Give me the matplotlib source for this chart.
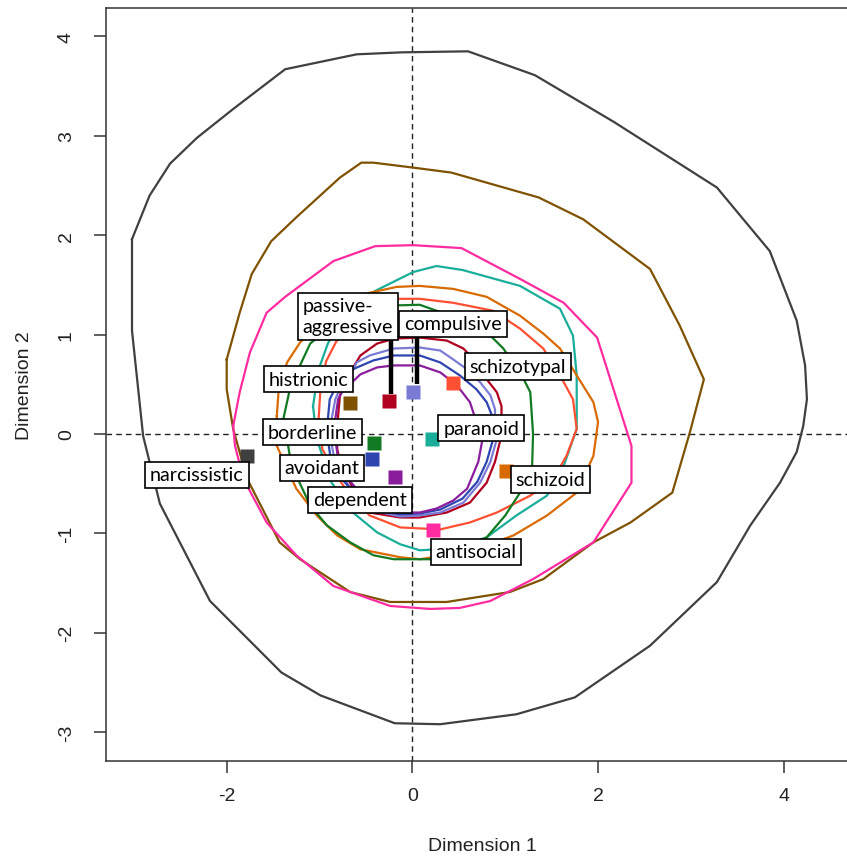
import matplotlib
matplotlib.use("Agg")
import matplotlib.pyplot as plt

# ---- data (Dimension 1, Dimension 2) ----
disorders = ["narcissistic", "histrionic", "antisocial", "paranoid", "schizoid",
             "schizotypal", "borderline", "passive-aggressive", "compulsive",
             "avoidant", "dependent"]

colours = {
    "narcissistic":       "#404040",
    "histrionic":         "#7f5200",
    "antisocial":         "#ff2ba0",
    "paranoid":           "#1aae9a",
    "schizoid":           "#d96a00",
    "schizotypal":        "#ff5034",
    "borderline":         "#117a22",
    "passive-aggressive": "#b0001f",
    "compulsive":         "#7b7bd6",
    "avoidant":           "#2f45b0",
    "dependent":          "#8a1d9c",
}

# centroid positions
point_x = {"narcissistic": -1.78, "histrionic": -0.67, "antisocial": 0.22,
           "paranoid": 0.21, "schizoid": 1.01, "schizotypal": 0.435,
           "borderline": -0.41, "passive-aggressive": -0.25,
           "compulsive": 0.01, "avoidant": -0.43, "dependent": -0.19}
point_y = {"narcissistic": -0.22, "histrionic": 0.31, "antisocial": -0.97,
           "paranoid": -0.05, "schizoid": -0.37, "schizotypal": 0.51,
           "borderline": -0.09, "passive-aggressive": 0.33,
           "compulsive": 0.42, "avoidant": -0.25, "dependent": -0.43}

# label box centres
label_x = {"narcissistic": -2.32, "histrionic": -1.116, "antisocial": 0.686,
           "paranoid": 0.741, "schizoid": 1.484, "schizotypal": 1.136,
           "borderline": -1.075, "passive-aggressive": -0.693,
           "compulsive": 0.438, "avoidant": -0.973, "dependent": -0.564}
label_y = {"narcissistic": -0.412, "histrionic": 0.553, "antisocial": -1.187,
           "paranoid": 0.060, "schizoid": -0.458, "schizotypal": 0.677,
           "borderline": 0.020, "passive-aggressive": 1.187,
           "compulsive": 1.107, "avoidant": -0.342, "dependent": -0.664}
label_text = {d: d for d in disorders}
label_text["passive-aggressive"] = "passive-\naggressive"

# leader lines (x, y0, y1)
leaders = {"passive-aggressive": (-0.233, 0.946, 0.40),
           "compulsive": (0.054, 0.996, 0.50)}

# contour polygons
cont_x = {
    "narcissistic": [-3.02, -2.83, -2.61, -2.32, -1.93, -1.37, -0.60, -0.11, 0.60, 1.32,
                     2.17, 3.28, 3.85, 4.14, 4.23, 4.25, 4.21, 4.14, 3.96, 3.64, 3.28,
                     2.56, 1.75, 1.12, 0.30, -0.19, -0.99, -1.41, -2.18, -2.72, -2.90, -3.02],
    "histrionic": [-2.00, -1.86, -1.73, -1.52, -1.25, -0.78, -0.55, -0.42, 0.01, 0.42,
                   1.36, 1.84, 2.56, 2.88, 3.14, 2.99, 2.80, 2.35, 1.95, 1.41, 1.05,
                   0.37, -0.24, -0.67, -1.21, -1.43, -1.78, -1.93, -2.00],
    "antisocial": [-1.93, -1.86, -1.75, -1.57, -1.37, -0.85, -0.40, 0.01, 0.53, 1.16,
                   1.63, 1.99, 2.36, 2.36, 1.95, 1.30, 0.84, 0.51, 0.19, -0.24, -0.85,
                   -1.25, -1.57, -1.82, -1.91],
    "paranoid": [-1.07, -1.01, -0.91, -0.73, -0.40, 0.01, 0.26, 0.54, 1.16, 1.59, 1.73,
                 1.77, 1.77, 1.63, 1.45, 1.12, 0.80, 0.46, 0.08, -0.13, -0.38, -0.64,
                 -0.87, -1.03],
    "schizoid": [-1.46, -1.44, -1.35, -1.21, -0.89, -0.56, -0.17, 0.08, 0.44, 0.80, 1.16,
                 1.41, 1.59, 1.77, 1.95, 2.00, 1.95, 1.77, 1.45, 1.09, 0.62, 0.08,
                 -0.13, -0.56, -0.81, -1.03, -1.25, -1.46],
    "schizotypal": [-1.01, -0.99, -0.93, -0.82, -0.56, -0.17, 0.08, 0.44, 0.87, 1.16,
                    1.41, 1.59, 1.73, 1.77, 1.66, 1.52, 1.27, 0.91, 0.62, 0.30, -0.13,
                    -0.46, -0.67, -0.83, -0.97],
    "borderline": [-1.39, -1.32, -1.21, -1.10, -0.78, -0.35, 0.08, 0.26, 0.62, 0.84,
                   0.98, 1.20, 1.27, 1.30, 1.29, 1.16, 1.00, 0.80, 0.51, 0.19, -0.20,
                   -0.42, -0.67, -0.92, -1.10, -1.25, -1.32, -1.35],
    "passive-aggressive": [-0.81, -0.80, -0.78, -0.73, -0.67, -0.56, -0.38, -0.19,
                           0.08, 0.37, 0.55, 0.71, 0.80, 0.91, 0.96, 0.96, 0.95, 0.89,
                           0.80, 0.62, 0.37, 0.08, -0.13, -0.46, -0.60, -0.67, -0.76,
                           -0.81],
    "compulsive": [-0.87, -0.83, -0.76, -0.67, -0.60, -0.46, -0.20, 0.08, 0.30, 0.44,
                   0.59, 0.73, 0.84, 0.89, 0.89, 0.91, 0.84, 0.73, 0.55, 0.30, 0.08,
                   -0.13, -0.44, -0.61, -0.75, -0.84, -0.88],
    "avoidant": [-0.91, -0.89, -0.81, -0.67, -0.42, -0.20, 0.08, 0.30, 0.51, 0.69, 0.80,
                 0.86, 0.87, 0.80, 0.70, 0.54, 0.30, 0.08, -0.13, -0.40, -0.62, -0.78,
                 -0.88, -0.91],
    "dependent": [-0.83, -0.80, -0.73, -0.65, -0.56, -0.38, -0.20, 0.08, 0.30, 0.48,
                  0.62, 0.68, 0.75, 0.71, 0.59, 0.44, 0.26, 0.08, -0.13, -0.37, -0.56,
                  -0.71, -0.80, -0.83],
}
cont_y = {
    "narcissistic": [1.96, 2.40, 2.72, 2.98, 3.27, 3.67, 3.82, 3.84, 3.85, 3.61, 3.14,
                     2.48, 1.84, 1.14, 0.69, 0.35, 0.08, -0.18, -0.49, -0.92, -1.49,
                     -2.13, -2.65, -2.82, -2.92, -2.91, -2.63, -2.40, -1.68, -0.70,
                     -0.02, 1.04],
    "histrionic": [0.75, 1.22, 1.61, 1.94, 2.18, 2.58, 2.73, 2.73, 2.68, 2.63, 2.38,
                   2.16, 1.66, 1.09, 0.55, 0.02, -0.59, -0.89, -1.09, -1.46, -1.59,
                   -1.69, -1.69, -1.59, -1.26, -1.09, -0.45, 0.05, 0.45],
    "antisocial": [0.08, 0.42, 0.82, 1.22, 1.38, 1.74, 1.89, 1.90, 1.87, 1.56, 1.32,
                   0.97, -0.12, -0.49, -1.09, -1.46, -1.68, -1.75, -1.76, -1.73,
                   -1.53, -1.22, -0.89, -0.45, -0.12],
    "paranoid": [0.28, 0.65, 0.91, 1.21, 1.44, 1.63, 1.69, 1.65, 1.49, 1.26, 0.99,
                 0.59, 0.05, -0.32, -0.62, -0.82, -1.04, -1.15, -1.17, -1.11, -0.99,
                 -0.79, -0.49, -0.05],
    "schizoid": [0.18, 0.45, 0.72, 0.92, 1.24, 1.40, 1.48, 1.49, 1.46, 1.38, 1.19, 1.01,
                 0.86, 0.59, 0.32, 0.12, -0.22, -0.59, -0.82, -1.02, -1.18, -1.26,
                 -1.24, -1.16, -1.02, -0.82, -0.55, -0.12],
    "schizotypal": [0.15, 0.45, 0.73, 0.93, 1.18, 1.36, 1.36, 1.32, 1.24, 1.06, 0.86,
                    0.59, 0.35, 0.05, -0.22, -0.45, -0.62, -0.79, -0.89, -0.96, -0.94,
                    -0.82, -0.62, -0.40, -0.15],
    "borderline": [0.15, 0.45, 0.69, 0.91, 1.16, 1.29, 1.30, 1.24, 1.12, 0.99, 0.86,
                   0.55, 0.42, 0.00, -0.32, -0.59, -0.82, -1.04, -1.18, -1.26, -1.26,
                   -1.22, -1.09, -0.92, -0.72, -0.42, -0.22, -0.05],
    "passive-aggressive": [0.05, 0.18, 0.39, 0.49, 0.62, 0.79, 0.91, 0.96, 0.97, 0.94,
                           0.86, 0.70, 0.55, 0.42, 0.28, 0.18, -0.05, -0.28, -0.49,
                           -0.69, -0.79, -0.84, -0.84, -0.79, -0.62, -0.49, -0.35,
                           -0.15],
    "compulsive": [0.15, 0.35, 0.50, 0.59, 0.72, 0.79, 0.86, 0.87, 0.84, 0.75, 0.65,
                   0.52, 0.39, 0.25, 0.12, -0.05, -0.28, -0.49, -0.69, -0.79, -0.82,
                   -0.83, -0.77, -0.62, -0.43, -0.25, -0.05],
    "avoidant": [0.15, 0.35, 0.50, 0.64, 0.74, 0.79, 0.79, 0.72, 0.59, 0.45, 0.32, 0.18,
                 -0.05, -0.28, -0.48, -0.65, -0.76, -0.80, -0.81, -0.76, -0.60, -0.43,
                 -0.25, -0.05],
    "dependent": [0.15, 0.35, 0.47, 0.52, 0.60, 0.67, 0.69, 0.69, 0.62, 0.49, 0.32, 0.15,
                  -0.08, -0.28, -0.55, -0.67, -0.75, -0.79, -0.79, -0.73, -0.60, -0.43,
                  -0.25, -0.05],
}

x_ticks = [-2, 0, 2, 4]
y_ticks = [-3, -2, -1, 0, 1, 2, 3, 4]

# ---- figure ----
W, H = 847, 862
fig = plt.figure(figsize=(W / 100, H / 100), dpi=100)
ax = fig.add_axes([106 / W, 1 - 761.7 / H, 752 / W, 752.4 / H])
ax.set_xlim(-3.30, 4.80)
ax.set_ylim(-3.287, 4.283)

ax.axvline(0, color="#222222", ls=(0, (4, 3)), lw=1.0, zorder=1)
ax.axhline(0, color="#222222", ls=(0, (4, 3)), lw=1.0, zorder=1)

for d in disorders:
    xs = cont_x[d] + cont_x[d][:1]
    ys = cont_y[d] + cont_y[d][:1]
    ax.plot(xs, ys, color=colours[d], lw=1.6, solid_joinstyle="round", zorder=2)

for d in disorders:
    ax.plot(point_x[d], point_y[d], marker="s", ms=9.5, mec="none",
            color=colours[d], zorder=4)

for d, (lx, y0, y1) in leaders.items():
    ax.plot([lx, lx], [y0, y1], color="black", lw=3.2, solid_capstyle="butt", zorder=5)

for d in disorders:
    ax.text(label_x[d], label_y[d], label_text[d], ha="center", va="center",
            multialignment="left", family="Lato", fontsize=14.2, color="black",
            linespacing=1.25, zorder=6,
            bbox=dict(boxstyle="square,pad=0.24", fc="white", ec="black", lw=1.2))

ax.set_xticks(x_ticks)
ax.set_yticks(y_ticks)
ax.set_xticklabels([str(v) for v in x_ticks], family="Liberation Sans", fontsize=14)
ax.set_yticklabels([str(v) for v in y_ticks], family="Liberation Sans", fontsize=14,
                   rotation=90, va="center")
ax.tick_params(axis="both", length=8.5, width=1.1, color="#333333", labelcolor="#222222")
ax.tick_params(axis="x", pad=10.5)
ax.tick_params(axis="y", pad=14)
for s in ax.spines.values():
    s.set_linewidth(1.1)
    s.set_color("#333333")

ax.set_xlabel("Dimension 1", family="Liberation Sans", fontsize=14, color="#222222")
ax.set_ylabel("Dimension 2", family="Liberation Sans", fontsize=14, color="#222222")
ax.xaxis.set_label_coords(0.5, -0.101)
ax.yaxis.set_label_coords(-0.097, 0.5)

fig.savefig("out.png", dpi=100)
